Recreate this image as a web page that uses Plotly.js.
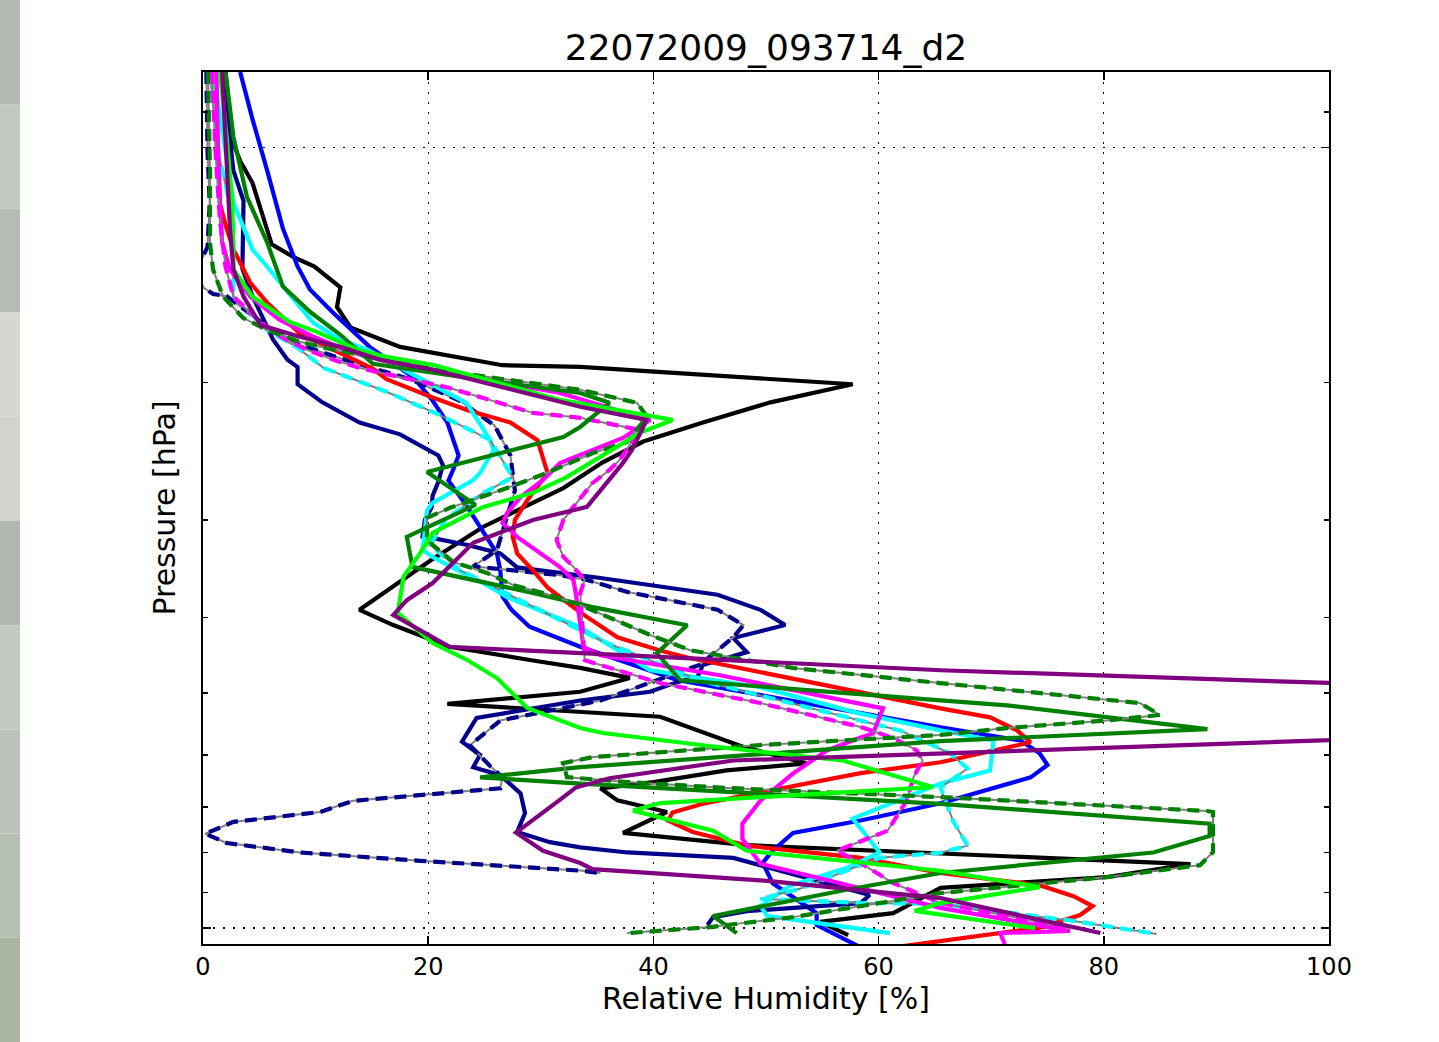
<!DOCTYPE html>
<html><head><meta charset="utf-8">
<script src="https://cdn.plot.ly/plotly-3.0.1.min.js"></script>
<style>html,body{margin:0;padding:0;background:#fff}#chart{width:1439px;height:1042px}</style>
</head><body><div id="chart"></div>
<script>
// Relative humidity [%] and pressure [hPa] for each sounding
const blackRH = [2.0,2.6,3.3,4.4,6.1,8.0,9.9,12.2,11.9,13.1,17.5,26.6,33.5,57.7,50.4,44.4,39.1,35.5,32.0,29.3,24.9,20.2,13.9,16.9,21.9,29.3,33.5,37.9,33.5,21.7,33.5,40.6,48.0,53.6,46.5,40.0,35.3,36.8,41.2,37.3,48.3,60.1,87.7,80.3,71.4,65.5,61.3,54.8,57.3];
const blackP  = [80,98,104,111,133,138,142,151,160,170,180,190,191,201,212,225,238,253,273,285,306,338,391,409,436,454,464,478,498,516,529,536,586,615,628,650,662,686,710,755,783,796,828,860,876,888,957,982,1021];

const blueRH = [3.3,4.4,5.7,7.1,8.4,9.5,11.6,14.8,18.7,20.4,21.7,22.7,22.2,21.8,23.5,24.6,26.1,26.4,26.6,27.4,29.0,33.5,42.1,65.5,72.6,74.3,75.0,73.5,65.5,58.4,52.4,50.6,49.7,50.6,54.5,54.5,58.5];
const blueP  = [80,92,107,127,142,152,163,180,197,211,225,248,259,267,289,306,331,348,376,391,411,436,481,553,575,597,618,641,692,728,755,796,825,876,957,991,1060];

const navyRH = [2.0,2.4,2.7,3.6,3.5,4.4,6.2,7.5,8.4,8.4,10.6,13.9,17.5,20.9,21.3,20.9,20.4,20.3,19.7,19.5,20.2,23.5,26.4,27.9,35.3,45.7,49.5,51.7,47.1,48.3,44.4,43.9,42.1,39.7,33.5,24.3,23.0,24.6,24.0,26.4,28.2,28.6,27.9,30.8,33.5,37.7,47.1,50.1,54.8,59.2,58.4,48.3,45.3,44.8];
const navyP  = [80,98,107,117,143,155,176,187,191,201,212,225,233,248,255,268,279,289,300,315,316,323,331,345,356,374,391,409,425,443,460,477,484,498,511,538,577,600,622,637,672,712,753,776,788,800,813,835,870,907,929,951,968,991];

const navyDashRH = [0.3,0.4,0.6,0.4,0,-2.0,0,0.9,2.1,5.1,8.6,13.1,18.4,22.8,25.9,27.3,27.7,26.8,26.1,24.0,27.5,31.7,34.1,37.7,40.6,45.7,48.0,47.1,44.1,35.3,26.4,23.7,25.5,26.6,26.4,13.3,10.4,2.7,0.2,2.1,8.6,19.3,33.5,35.3];
const navyDashP  = [80,101,118,134,138,144,151,154,155,167,179,188,198,211,227,248,275,304,328,344,348,353,358,371,378,391,409,424,460,511,542,583,620,641,662,687,710,731,757,778,800,820,844,850];

const redRH = [1.1,1.3,1.5,2.1,2.7,4.2,5.7,8.6,12.2,15.1,16.3,20.4,23.5,27.3,29.7,30.2,30.6,28.8,27.7,27.5,27.9,29.3,30.6,33.5,36.8,40.6,43.0,65.5,69.9,72.3,73.5,65.5,58.4,49.5,44.4,41.7,41.3,43.5,48.3,58.4,65.5,74.3,77.3,79.0,77.9,74.3,65.5,61.0];
const redP  = [80,101,118,127,135,149,158,173,183,192,198,209,217,225,237,250,261,283,300,315,331,348,366,394,424,441,450,523,537,558,578,613,633,670,693,711,728,753,784,813,850,881,910,937,962,999,1039,1060];

const cyanRH = [0.9,1.8,2.7,4.4,5.7,8.3,9.8,12.2,14.6,18.7,23.4,25.5,25.8,24.6,24.0,20.4,19.9,19.5,20.4,22.6,24.9,27.0,33.5,39.7,49.5,58.3,65.5,70.2,69.9,65.5,57.7,60.1,57.2,52.1,49.5,50.1,61.0];
const cyanP  = [80,96.8,117.6,135.1,142.1,158,167.7,176.3,181.5,195.5,212.3,236.9,244,261.1,266.6,285.3,291.3,327.8,334.6,347.7,361.4,376.6,411.5,467.3,491.4,530.7,558.1,574.8,628.2,652.8,724,800,837,882.8,936.6,964.7,1015];

const cyanDashRH = [0.6,1.3,2.7,2.7,5.7,8.3,10.7,16.3,21.0,25.5,27.5,24.6,21.5,20.2,22.8,28.2,35.3,44.1,53.0,61.9,66.3,67.9,65.5,66.6,67.9,65.5,60.1,53.0,49.5,58.4,65.5,71.4,77.3,84.7];
const cyanDashP  = [80,100.6,123.7,155.2,171.2,180,191.5,205.5,220,236.9,264.3,278.6,300,322.9,347.7,380,427.7,481.4,518.3,558.1,596.5,624.4,660.6,728.3,784.2,800.6,812.6,890.6,917.3,928.4,931.2,956.2,979.1,1017.5];

const magRH = [1.2,1.3,1.5,1.7,2.4,4.2,6.8,9.8,13.3,16.9,31.7,39.7,37.3,31.7,30.2,28.2,27.0,26.6,27.9,29.9,31.7,32.9,33.2,33.8,35.3,45.9,60.4,59.5,58.4,55.4,52.4,49.5,47.9,47.9,49.5,65.5,70.8,77.0,70.8,71.2];
const magP  = [80,96.8,117.6,132.3,143.3,155.2,166.2,174.7,183.1,188.7,206.2,223.3,235.5,253.6,266.6,280.3,294,302.7,315.3,330.7,344.7,358.2,380,436.6,447.1,474.3,522.9,563.1,569.8,592.1,633.8,686.5,734.7,768.2,827.1,942.1,973.3,1008.5,1014.5,1048];

const magDashRH = [0.8,1.1,1.5,2.0,2.7,5.1,7.1,9.2,11.6,13.9,16.6,21.9,29.3,33.5,38.8,37.7,37.0,36.1,34.6,32.9,32.0,31.4,32.0,32.9,33.9,33.5,33.9,40.6,49.5,58.4,61.3,63.4,63.9,63.1,62.5,60.8,56.3,58.4,61.3,65.5,77.0];
const magDashP  = [80,100.6,123.7,142.1,155.2,167.2,175.3,181.5,187,191.5,195.5,203.2,218.7,221.9,230,242.6,251.3,258.8,268.9,288.6,300,318.2,334.5,344.5,358.2,372,453.7,485.3,514.8,552.5,570.6,592.1,609.9,640.7,686.5,750.2,795.9,825.4,875.7,928.8,1000];

const greenRH = [2.0,2.7,3.9,5.7,7.1,9.5,12.2,15.1,22.8,33.5,36.1,33.5,32.0,19.9,24.2,18.1,18.6,19.9,29.3,34.6,43.0,40.3,42.4,65.5,71.4,89.2,65.5,33.5,24.6,33.5,65.5,89.4,89.4,84.4,65.5,57.5,45.3,47.4];
const greenP  = [80,96.8,115.6,132.3,150.7,162.3,173.7,189.2,196.6,206.2,212.3,228,234.8,260.4,286.9,315.3,344.5,347.7,372,387.9,409.2,444.5,481.4,510.7,518.3,556,576,622,641,653,693,735,762,800,850,891,965,1015];

const greenDashRH = [0.44,0.62,0.62,0.89,1.78,3.55,5.68,8.61,11.55,16.34,21.94,33.48,38.54,39.43,37.66,34.64,30.55,27.26,24.6,21.94,19.89,19.89,22.2,25.22,27.53,30.2,33.48,39.7,43.25,52.4,65.45,74.33,83.21,84.99,80.28,71.4,65.45,49.47,40.59,34.64,31.97,32.33,37.66,46.54,56.84,65.45,89.17,89.7,89.7,88.54,80.28,71.4,65.45,52.4,45.03,37.66];
const greenDashP  = [80,106.7,132.4,143.3,155.2,165.2,171.2,177.3,181.5,187,193.7,204.3,212.3,221.2,238.3,246.2,261.1,272.1,280.9,289.4,298.1,318.2,339.5,350.7,363.4,372,385.4,421.1,440.5,464.2,485.3,500.2,514.8,533.3,541.8,554.2,565.7,582.8,595,603.8,614.6,640.7,649.9,661.3,671.3,679.3,707.9,709.9,799,830.5,860.3,886.1,902,968.1,997.1,1014.9];

const limeRH = [1.5,2.1,2.6,2.7,2.7,4.4,7.7,10.1,13.7,16.3,20.4,31.7,41.7,38.8,35.3,32.3,29.3,24.9,22.6,20.4,19.3,17.8,17.3,20.4,23.5,26.1,28.8,33.5,35.5,45.7,56.8,64.8,40.6,38.2,45.3,48.3,65.5,74.3,65.5,63.2,73.9];
const limeP  = [80,96.8,117.6,132.4,143.3,155.2,167.2,172.2,181.5,185.4,189.8,210.5,223.3,232,249,264.3,276.9,288.6,300,311.5,330.6,354.8,394.6,431.2,453.7,478.2,522.4,554.2,562.3,586,609.9,659.6,691.5,707.1,750.2,795.9,844.4,886.1,928.8,950.5,1000];

const purpleRH = [1.7,2.0,2.4,2.7,3.6,5.1,8.6,12.2,15.7,20.4,33.5,39.4,38.1,37.3,35.3,34.1,29.3,24.0,22.2,20.4,18.1,16.9,21.9,33.5,65.5,176,65.5,52.4,47.1,36.1,33.1,31.6,27.8,30.2,33.5,34.6,50.1,65.5,79.7];
const purpleP  = [80,100.6,127.4,143.3,155.2,168.7,174.7,180,187,192.6,214.8,223.3,244,253.5,274.6,288.6,300,320.9,340.5,361.3,380,397,436.2,444,467.3,527,596.5,605.6,609.9,642.6,660.6,686.5,754.6,795.9,825.4,840.4,869.8,915.2,1014.5];

const xTicks = [0,20,40,60,80,100];
const yMajor = [100,1000];
const yMinor = [90,200,300,400,500,600,700,800,900];

const LW = 4.2;
function solid(x, y, color) {
  return {type:'scatter', mode:'lines', x:x, y:y, line:{color:color, width:LW}, hoverinfo:'skip', showlegend:false};
}
function dashed(x, y, color) {
  return [
    {type:'scatter', mode:'lines', x:x, y:y, line:{color:'#808080', width:2}, hoverinfo:'skip', showlegend:false},
    {type:'scatter', mode:'lines', x:x, y:y, line:{color:color, width:LW, dash:'12px,7px'}, hoverinfo:'skip', showlegend:false}
  ];
}

const data = [].concat(
  [solid(blackRH, blackP, '#000000')],
  [solid(blueRH, blueP, '#0000ff')],
  [solid(navyRH, navyP, '#00008b')],
  dashed(navyDashRH, navyDashP, '#00008b'),
  [solid(redRH, redP, '#ff0000')],
  [solid(cyanRH, cyanP, '#00ffff')],
  dashed(cyanDashRH, cyanDashP, '#00ffff'),
  [solid(magRH, magP, '#ff00ff')],
  dashed(magDashRH, magDashP, '#ff00ff'),
  [solid(greenRH, greenP, '#008000')],
  dashed(greenDashRH, greenDashP, '#008000'),
  [solid(limeRH, limeP, '#00ff00')],
  [solid(purpleRH, purpleP, '#800080')]
);

// left edge strip (background artifact in the reference)
const stripColors = ['#b4b9b3','#c3c8c2','#b6bcb5','#d5d7d3','#d0d3ce','#b2b8b1','#c4c9c3','#bac2b9','#b6c1b4','#a8b6a2'];
const shapes = [];
const L = 203, R = 1329, T = 72, B = 944, W = R - L, H = B - T;
stripColors.forEach((c, i) => {
  const a = i * 1042 / stripColors.length, b = (i + 1) * 1042 / stripColors.length;
  shapes.push({type:'rect', xref:'paper', yref:'paper', layer:'below',
    x0:(0 - L) / W, x1:(20 - L) / W, y0:(B - b) / H, y1:(B - a) / H,
    fillcolor:c, line:{width:0}});
});

const FONT = 'DejaVu Sans, Liberation Sans, sans-serif';
const layout = {
  width:1439, height:1042,
  margin:{l:L, r:1439 - R, t:T, b:1042 - B, pad:0},
  paper_bgcolor:'#ffffff', plot_bgcolor:'#ffffff',
  font:{family:FONT, color:'#000000'},
  showlegend:false,
  shapes:shapes,
  title:{text:'22072009_093714_d2', font:{size:36, family:FONT, color:'#000'},
    xref:'paper', x:0.5, xanchor:'center', yref:'container', y:1 - 47/1042, yanchor:'middle'},
  xaxis:{
    range:[0,100], autorange:false, tickvals:xTicks, ticktext:xTicks.map(String),
    ticks:'inside', ticklen:8, tickwidth:1.5, tickcolor:'#000',
    mirror:'ticks', showline:true, linewidth:2, linecolor:'#000',
    showgrid:true, gridcolor:'#000', gridwidth:1.3, griddash:'1.5px,8.5px',
    zeroline:false, tickfont:{size:24, family:FONT}, ticklabelstandoff:0,
    title:{text:'Relative Humidity [%]', font:{size:30, family:FONT}, standoff:6}
  },
  yaxis:{
    type:'log', autorange:false, range:[Math.log10(1048), Math.log10(80)],
    tickvals:yMajor, showticklabels:false,
    ticks:'inside', ticklen:8, tickwidth:1.5, tickcolor:'#000',
    mirror:'ticks', showline:true, linewidth:2, linecolor:'#000',
    showgrid:true, gridcolor:'#000', gridwidth:1.3, griddash:'2px,8px',
    zeroline:false,
    minor:{tickvals:yMinor, ticks:'inside', ticklen:5, tickwidth:1.5, tickcolor:'#000', showgrid:false},
    title:{text:'Pressure [hPa]', font:{size:30, family:FONT}, standoff:17}
  }
};

Plotly.newPlot('chart', data, layout, {staticPlot:true, displayModeBar:false});
</script>
</body></html>
